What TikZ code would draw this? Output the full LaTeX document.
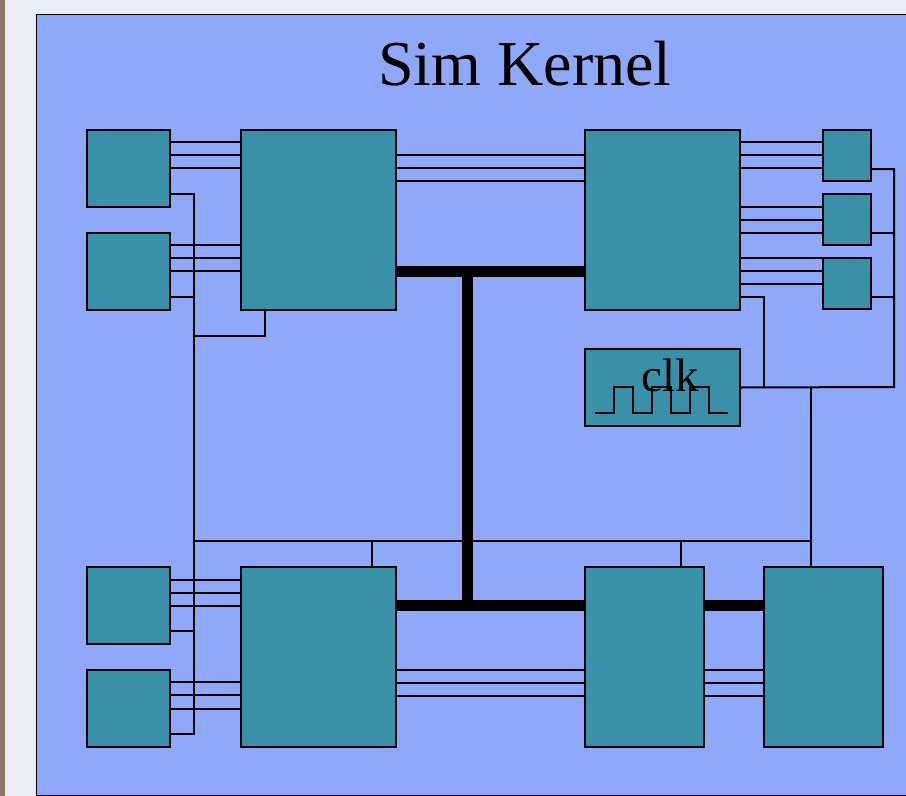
\documentclass[tikz,border=0pt]{standalone}
\usepackage{fontspec}
\setmainfont{Liberation Serif}
\usepackage{xcolor}
\usepackage{tikz}
\usetikzlibrary{positioning,backgrounds}
\definecolor{panelblue}{HTML}{8FA8FA}
\definecolor{unitteal}{HTML}{3A90A8}
\definecolor{pagegrey}{HTML}{E9EDF6}
\definecolor{edgebrown}{HTML}{8B7A6A}

\begin{document}
\begin{tikzpicture}[
  x=1pt,y=-1pt,
  node distance=26pt and 71pt,
  line width=2pt,
  unit/.style={draw,fill=unitteal,inner sep=0pt,outer sep=0pt},
  devbox/.style={unit,minimum width=83pt,minimum height=77pt},
  corebox/.style={unit,minimum width=155pt,minimum height=180pt},
  tallbox/.style={unit,minimum width=119pt,minimum height=180pt},
  tinybox/.style={unit,minimum width=48pt,minimum height=51pt},
  clkbox/.style={unit,minimum width=155pt,minimum height=77pt},
  wire/.style={line join=miter},
  bus/.style={line width=11pt}
]
\useasboundingbox (0,0) rectangle (906,796);
% left column
\node[devbox,anchor=north west] (devA) at (87,130) {};
\node[devbox,below=of devA] (devB) {};
\node[devbox,anchor=north west] (devC) at (87,567) {};
\node[devbox,below=of devC] (devD) {};
% cores
\node[corebox,anchor=north west] (coreA) at (241,130) {};
\node[corebox,right=189pt of coreA] (coreB) {};
\node[corebox,anchor=north west] (coreC) at (241,567) {};
\node[tallbox,anchor=north west] (coreD) at (585,567) {};
\node[tallbox,right=60pt of coreD] (coreE) {};
% right column
\node[tinybox,anchor=north west] (devE) at (823,130) {};
\node[tinybox,below=13pt of devE] (devF) {};
\node[tinybox,below=13pt of devF] (devG) {};
\node[clkbox,below=39pt of coreB] (clk) {};
\node[font=\fontsize{47pt}{47pt}\selectfont,anchor=base,inner sep=0pt] (clkText) at (670,391) {clk};
\node[font=\fontsize{64pt}{64pt}\selectfont,anchor=base,inner sep=0pt] (title) at (525,85) {Sim Kernel};
% clock wave
\draw[line width=1.5pt] (595,413) -- (614,413) -- (614,387) -- (633,387) -- (633,413) -- (652,413) -- (652,387) -- (671,387) -- (671,413) -- (690,413) -- (690,387) -- (709,387) -- (709,413) -- (728,413);
% data wires
\draw[wire] (devA.east |- 0,142) -- (coreA.west |- 0,142);
\draw[wire] (devA.east |- 0,155) -- (coreA.west |- 0,155);
\draw[wire] (devA.east |- 0,168) -- (coreA.west |- 0,168);
\draw[wire] (devB.east |- 0,245) -- (coreA.west |- 0,245);
\draw[wire] (devB.east |- 0,258) -- (coreA.west |- 0,258);
\draw[wire] (devB.east |- 0,271) -- (coreA.west |- 0,271);
\draw[wire] (devC.east |- 0,580) -- (coreC.west |- 0,580);
\draw[wire] (devC.east |- 0,593) -- (coreC.west |- 0,593);
\draw[wire] (devC.east |- 0,606) -- (coreC.west |- 0,606);
\draw[wire] (devD.east |- 0,682) -- (coreC.west |- 0,682);
\draw[wire] (devD.east |- 0,695) -- (coreC.west |- 0,695);
\draw[wire] (devD.east |- 0,709) -- (coreC.west |- 0,709);
\draw[wire] (coreA.east |- 0,155) -- (coreB.west |- 0,155);
\draw[wire] (coreA.east |- 0,168) -- (coreB.west |- 0,168);
\draw[wire] (coreA.east |- 0,181) -- (coreB.west |- 0,181);
\draw[wire] (coreB.east |- 0,142) -- (devE.west |- 0,142);
\draw[wire] (coreB.east |- 0,155) -- (devE.west |- 0,155);
\draw[wire] (coreB.east |- 0,168) -- (devE.west |- 0,168);
\draw[wire] (coreB.east |- 0,207) -- (devF.west |- 0,207);
\draw[wire] (coreB.east |- 0,220) -- (devF.west |- 0,220);
\draw[wire] (coreB.east |- 0,233) -- (devF.west |- 0,233);
\draw[wire] (coreB.east |- 0,258) -- (devG.west |- 0,258);
\draw[wire] (coreB.east |- 0,271) -- (devG.west |- 0,271);
\draw[wire] (coreB.east |- 0,284) -- (devG.west |- 0,284);
\draw[wire] (coreC.east |- 0,670) -- (coreD.west |- 0,670);
\draw[wire] (coreC.east |- 0,683) -- (coreD.west |- 0,683);
\draw[wire] (coreC.east |- 0,696) -- (coreD.west |- 0,696);
\draw[wire] (coreD.east |- 0,670) -- (coreE.west |- 0,670);
\draw[wire] (coreD.east |- 0,683) -- (coreE.west |- 0,683);
\draw[wire] (coreD.east |- 0,696) -- (coreE.west |- 0,696);
% left clock rail
\coordinate (railL) at (193.5,541);
\coordinate (railR) at (811,541);
\draw[wire] (devA.east |- 0,194) -| (railL |- 0,734) -- (devD.east |- 0,734);
\draw[wire] (devB.east |- 0,297) -- (railL |- 0,297);
\draw[wire] (devC.east |- 0,631) -- (railL |- 0,631);
\draw[wire] (coreA.south -| 265,0) |- (railL |- 0,336);
\draw[wire] (railL) -- (railR);
\draw[wire] (coreC.north -| 372,0) -- (372,541);
\draw[wire] (coreD.north -| 681,0) -- (681,541);
% right clock rail
\coordinate (railE) at (894,387);
\draw[wire] (clk.east) -- (railE) |- (devE.east |- 0,169);
\draw[wire] (devF.east |- 0,233) -- (railE |- 0,233);
\draw[wire] (devG.east |- 0,297) -- (railE |- 0,297);
\draw[wire] (coreB.east |- 0,297) -| (764,387);
\draw[wire] (coreE.north -| 811,0) -- (811,387);
% thick buses
\coordinate (busTop) at (467,271);
\coordinate (busBot) at (467,605);
\draw[bus] (coreA.east |- busTop) -- (coreB.west |- busTop);
\draw[bus] (coreC.east |- busBot) -- (coreD.west |- busBot);
\draw[bus] (coreD.east |- busBot) -- (coreE.west |- busBot);
\draw[bus] (busTop) -- (busBot);
\begin{scope}[on background layer]
\fill[pagegrey] (0,0) rectangle (906,796);
\fill[edgebrown] (0,0) rectangle (5,796);
\draw[fill=panelblue] (36,14) rectangle (930,795);
\end{scope}
\end{tikzpicture}
\end{document}
